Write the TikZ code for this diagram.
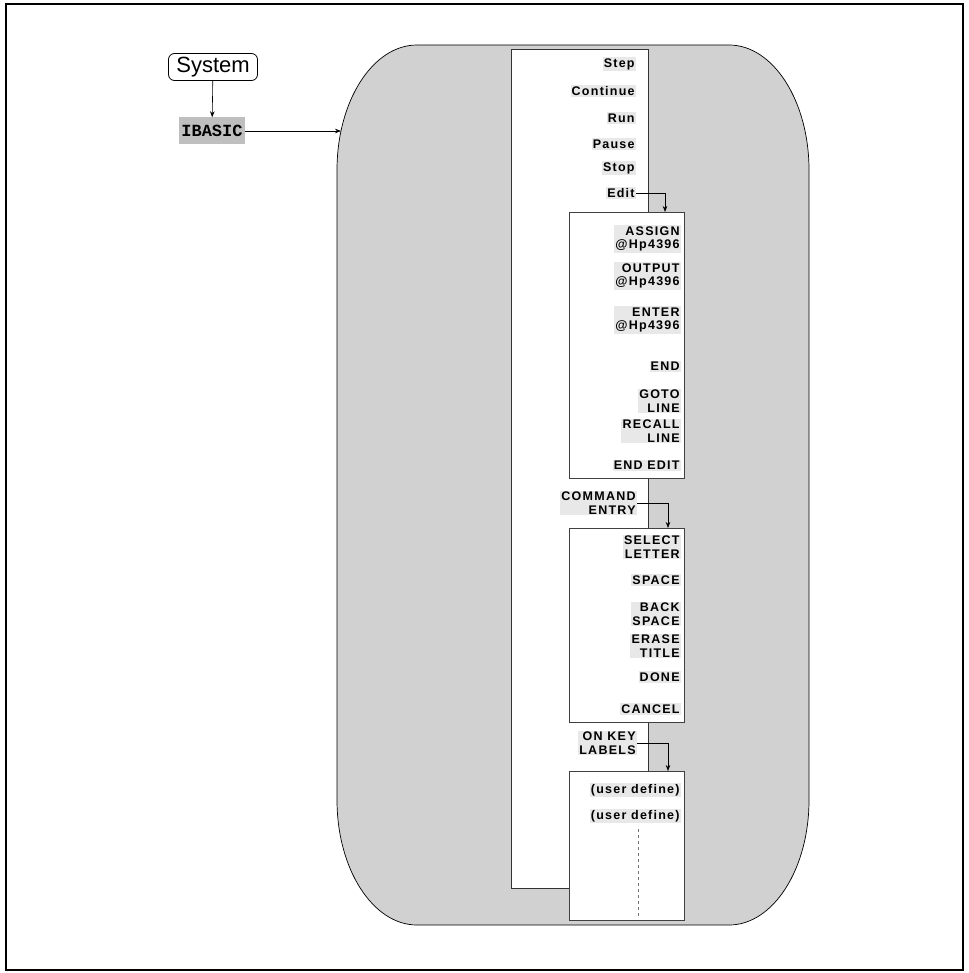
\documentclass[tikz,border=0pt]{standalone}
\usepackage{fontspec}
\setmainfont{Liberation Sans}
\newfontfamily\lblfont[LetterSpace=10]{Liberation Sans}
\newfontfamily\ibfont{Liberation Mono}
\usetikzlibrary{arrows.meta}
\begin{document}
\begin{tikzpicture}[x=1pt,y=-1pt,
  lbl/.style={font=\lblfont\bfseries\fontsize{12.5}{13.5}\selectfont, fill=black!9, inner sep=1.2pt, align=right, anchor=east},
  subbox/.style={draw=black!75, line width=0.8pt, fill=white},
  arr/.style={-{Stealth[length=6pt,width=4.5pt]}, line width=0.6pt}]
\useasboundingbox (0,0) rectangle (968,973);
% outer frame
\draw[line width=2pt] (6,4) rectangle (963,970);
% gray rounded region
\path[fill=black!18, draw=black, line width=0.7pt]
  (417,45) -- (729,45) .. controls (773.2,45) and (809,101) .. (809,170)
  -- (809,800) .. controls (809,869) and (773.2,925) .. (729,925)
  -- (417,925) .. controls (372.8,925) and (337,869) .. (337,800)
  -- (337,170) .. controls (337,101) and (372.8,45) .. (417,45) -- cycle;
% main white column
\draw[fill=white, draw=black!80, line width=0.8pt] (511,49) rectangle (648,888);
% sub boxes
\draw[subbox] (569,212) rectangle (684,478);
\draw[subbox] (569,528) rectangle (684,722);
\draw[subbox] (569,771) rectangle (684,920);
\draw[dashed, black!55, line width=0.6pt] (638,829) -- (638,917);

% System and IBASIC
\node[draw, rounded corners=6pt, line width=0.8pt, inner sep=2pt, minimum width=89pt, minimum height=27pt,
  font=\fontsize{22}{24}\selectfont] (sys) at (213,67) {System};
\node[fill=black!25, font=\ibfont\bfseries\fontsize{17}{18}\selectfont, inner sep=2pt, minimum height=27pt] (ib) at (212,131) {IBASIC};
\draw[arr] (sys) -- (ib);
\coordinate (gin) at (341,131);
\draw[arr] (ib) -- (gin);

% main column labels
\node[lbl] (step) at (636,64) {Step};
\node[lbl] (cont) at (636,91) {Continue};
\node[lbl] (run) at (636,118) {Run};
\node[lbl] (pause) at (636,144) {Pause};
\node[lbl] (stop) at (636,168) {Stop};
\node[lbl] (edit) at (636,193) {Edit};
\coordinate (b1in) at (665,212);
\draw[arr] (edit.east) -| (b1in);

% box 1
\node[lbl] (assign) at (681,239) {ASSIGN\\@Hp4396};
\node[lbl] (output) at (681,276) {OUTPUT\\@Hp4396};
\node[lbl] (enter) at (681,320) {ENTER\\@Hp4396};
\node[lbl] (end) at (681,366) {END};
\node[lbl] (goto) at (681,401) {GOTO\\LINE};
\node[lbl] (recall) at (681,431) {RECALL\\LINE};
\node[lbl] (endedit) at (681,465) {END EDIT};

\node[lbl] (cmd) at (637,503) {COMMAND\\ENTRY};
\coordinate (b2in) at (668,528);
\draw[arr] (cmd.east) -| (b2in);

% box 2
\node[lbl] (select) at (681,547) {SELECT\\LETTER};
\node[lbl] (space) at (681,580) {SPACE};
\node[lbl] (back) at (681,614) {BACK\\SPACE};
\node[lbl] (erase) at (681,646) {ERASE\\TITLE};
\node[lbl] (done) at (681,677) {DONE};
\node[lbl] (cancel) at (681,709) {CANCEL};

\node[lbl] (onkey) at (637,743) {ON KEY\\LABELS};
\coordinate (b3in) at (668,771);
\draw[arr] (onkey.east) -| (b3in);

% box 3
\node[lbl] (ud1) at (681,790) {(user define)};
\node[lbl] (ud2) at (681,816) {(user define)};
\end{tikzpicture}
\end{document}
